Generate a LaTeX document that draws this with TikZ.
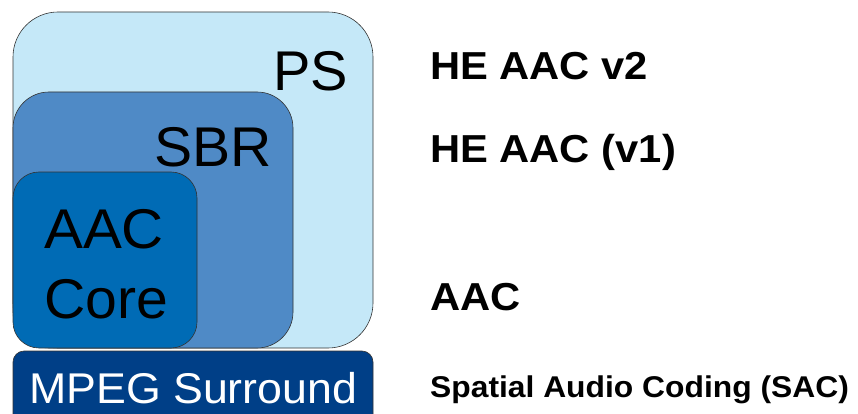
\documentclass[tikz,border=0pt]{standalone}
\usepackage{fontspec}
\setmainfont{Liberation Sans}
\definecolor{psblue}{HTML}{C5E8F8}
\definecolor{sbrblue}{HTML}{4F8AC6}
\definecolor{aacblue}{HTML}{006BB5}
\definecolor{mpsblue}{HTML}{003F87}
\newcommand{\widetext}[2]{\scalebox{#1}[1]{#2}}
\tikzset{
  layer/.style={draw=black!80, line width=0.6pt},
  boxtext/.style={anchor=base west, inner sep=0pt, font=\fontsize{56}{60}\selectfont},
  sidetext/.style={anchor=base west, inner sep=0pt, font=\fontsize{39}{44}\selectfont\bfseries}
}
\begin{document}
\begin{tikzpicture}[x=1pt,y=-1pt]
\useasboundingbox (0,0) rectangle (858,414);
\clip (0,0) rectangle (858,414);
% nested tools
\draw[layer, fill=psblue, rounded corners=45] (13,12) rectangle (373,348);
\draw[layer, fill=sbrblue, rounded corners=36] (13,92) rectangle (293,348);
\draw[layer, fill=aacblue, rounded corners=26] (13,172) rectangle (197,348);
\draw[layer, fill=mpsblue, rounded corners=11] (13,420) -- (13,351) -- (373,351) -- (373,420);
\node[boxtext] (ps) at (273,91) {PS};
\node[boxtext] (sbr) at (154,167) {\widetext{1.02}{SBR}};
\node[boxtext] (aac) at (44,248) {\widetext{1.04}{AAC}};
\node[boxtext] (core) at (44,318) {\widetext{1.02}{Core}};
\node[boxtext, text=white, font=\fontsize{43}{48}\selectfont] (mps) at (29,403) {\widetext{1.04}{MPEG Surround}};
% profile names
\node[sidetext] (hev2) at (430,80) {\widetext{1.07}{HE AAC v2}};
\node[sidetext] (hev1) at (430,163) {\widetext{1.07}{HE AAC (v1)}};
\node[sidetext] (aaclc) at (430,310) {\widetext{1.07}{AAC}};
\node[sidetext, font=\fontsize{30}{34}\selectfont\bfseries] (sac) at (430,397) {\widetext{1.06}{Spatial Audio Coding (SAC)}};
\end{tikzpicture}
\end{document}
